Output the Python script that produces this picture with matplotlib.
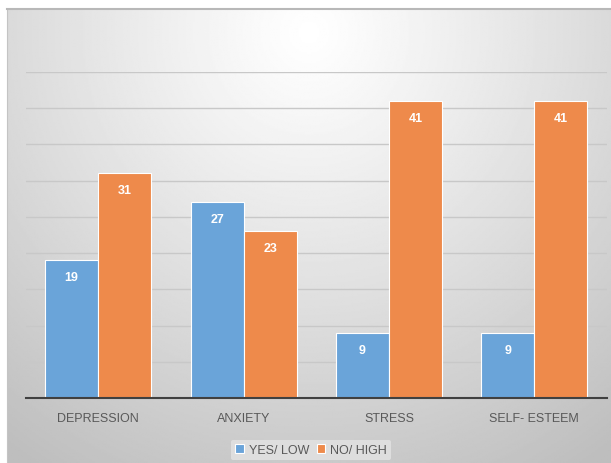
import numpy as np
import matplotlib.pyplot as plt

categories = ['DEPRESSION', 'ANXIETY', 'STRESS', 'SELF- ESTEEM']
yes_low = [19, 27, 9, 9]
no_high = [31, 23, 41, 41]
series_names = ['YES/ LOW', 'NO/ HIGH']

plt.rcParams['font.family'] = ['Liberation Sans', 'DejaVu Sans']

fig = plt.figure(figsize=(6.11, 4.64), dpi=100)

# radial gray background of the chart frame
bg = fig.add_axes([7/611, 0, 1 - 7/611, 1 - 10/464], zorder=0)
yy, xx = np.mgrid[0:1:300j, 0:1:400j]
r = np.sqrt(((xx - 0.5) / 0.7) ** 2 + ((yy - 0.05) / 0.95) ** 2)
shade = 1.0 - 0.21 * np.clip(r, 0, 1.2) ** 1.1
bg.imshow(shade, cmap='gray', vmin=0, vmax=1, aspect='auto', extent=[0, 1, 0, 1], origin='upper')
bg.set_xticks([])
bg.set_yticks([])
for s in bg.spines.values():
    s.set_visible(False)
bg.spines['top'].set_visible(True)
bg.spines['left'].set_visible(True)
bg.spines['top'].set_color('#b8b8b8')
bg.spines['left'].set_color('#c4c4c4')
bg.spines['top'].set_linewidth(1.5)

ax = fig.add_axes([25.5/611, 65/464, 581.5/611, 326/464], zorder=1)
ax.patch.set_alpha(0)

x = np.arange(len(categories))
w = 0.365
b1 = ax.bar(x - w/2, yes_low, w, color='#6aa4d9', edgecolor='white', linewidth=0.8, label=series_names[0], zorder=3)
b2 = ax.bar(x + w/2, no_high, w, color='#ee8a4b', edgecolor='white', linewidth=0.8, label=series_names[1], zorder=3)

for bars in (b1, b2):
    for rect in bars:
        h = rect.get_height()
        ax.text(rect.get_x() + rect.get_width()/2, h - 1.5, str(int(h)), ha='center', va='top',
                color='white', fontsize=9, fontweight='bold', zorder=4)

ax.set_xlim(-0.5, len(categories) - 0.5)
ax.set_ylim(0, 45)
ax.set_yticks(np.arange(5, 46, 5))
ax.yaxis.grid(True, color='#c8c8c8', linewidth=1.0, zorder=1)
ax.tick_params(axis='y', left=False, labelleft=False)
ax.set_xticks(x)
ax.set_xticklabels(categories, fontsize=9, color='#595959')
ax.tick_params(axis='x', length=0, pad=10)
for s in ['top', 'right', 'left']:
    ax.spines[s].set_visible(False)
ax.spines['bottom'].set_color('#404040')
ax.spines['bottom'].set_linewidth(1.5)
ax.spines['bottom'].set_zorder(5)

leg = fig.legend(loc='center', bbox_to_anchor=(311/611, 1 - 451/464), ncol=2, frameon=True,
                 fontsize=9, handlelength=0.7, handleheight=0.7, handletextpad=0.4,
                 columnspacing=0.6, borderpad=0.35)
leg.get_frame().set_facecolor('#dedede')
leg.get_frame().set_edgecolor('none')
leg.get_frame().set_alpha(1)
for t in leg.get_texts():
    t.set_color('#595959')

fig.savefig('out.png', dpi=100)
